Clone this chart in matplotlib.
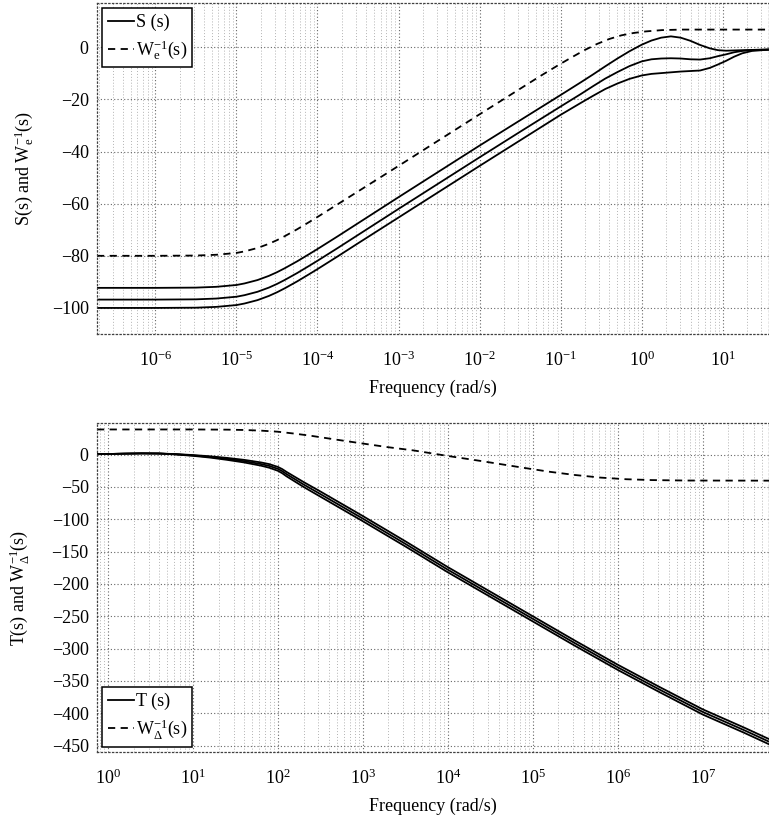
import matplotlib
matplotlib.use("Agg")
import matplotlib.pyplot as plt
from matplotlib.ticker import FixedLocator, LogLocator, LogFormatterSciNotation, NullFormatter
import numpy as np

plt.rcParams['font.family'] = 'serif'
plt.rcParams['font.serif'] = ['Liberation Serif', 'DejaVu Serif']
plt.rcParams['mathtext.fontset'] = 'custom'
plt.rcParams['mathtext.rm'] = 'Liberation Serif'
plt.rcParams['mathtext.it'] = 'Liberation Serif:italic'
plt.rcParams['font.size'] = 13

# --- top panel: S(s) (three cases) and W_e^-1(s); x = log10(rad/s), y = dB ---
logw_s = [-6.72, -6, -5.5, -5.25, -5, -4.9, -4.74, -4.6, -4.5, -4.4, -4.25, -4.1, -4, -3.75,
          -3.5, -3, -2, -1.5, -1, -0.75, -0.6, -0.45, -0.3, -0.15, 0, 0.12, 0.24, 0.36,
          0.48, 0.6, 0.72, 0.84, 0.94, 1.04, 1.14, 1.24, 1.36, 1.57]
S_hi = [-92.3, -92.3, -92.2, -91.9, -91.2, -90.6, -89.3, -87.7, -86.3, -84.7, -82.1, -79.3, -77.4, -72.5,
        -67.5, -57.5, -37.7, -28.0, -18.3, -13.4, -10.4, -7.3, -4.3, -1.5, 1.0, 2.6, 3.7, 4.2,
        3.7, 2.5, 0.9, -0.4, -1.1, -1.3, -1.2, -1.1, -1.0, -0.8]
S_mid = [-96.8, -96.8, -96.7, -96.4, -95.7, -95.1, -93.8, -92.2, -90.8, -89.2, -86.6, -83.8, -81.9, -77.0,
         -72.0, -62.0, -42.2, -32.4, -22.7, -17.9, -14.9, -12.0, -9.5, -7.2, -5.4, -4.6, -4.3, -4.2,
         -4.3, -4.6, -4.7, -4.2, -3.4, -2.7, -1.9, -1.4, -1.1, -0.9]
S_lo = [-100.0, -100.0, -99.9, -99.6, -98.9, -98.3, -97.0, -95.4, -94.0, -92.4, -89.8, -87.0, -85.1, -80.2,
        -75.2, -65.3, -45.5, -35.7, -25.9, -21.3, -18.6, -16.0, -13.9, -12.1, -10.8, -10.2, -9.9, -9.6,
        -9.3, -9.1, -8.9, -7.9, -6.6, -5.2, -3.6, -2.3, -1.4, -0.9]

logw_we = [-6.72, -6, -5.5, -5.25, -5, -4.9, -4.74, -4.6, -4.5, -4.4, -4.25, -4.1, -4, -3.75,
           -3.5, -3, -2, -1.5, -1.25, -1, -0.85, -0.7, -0.55, -0.4, -0.25, -0.1, 0.05, 0.25,
           0.5, 1.0, 1.57]
We_inv = [-80.0, -80.0, -79.9, -79.6, -78.9, -78.3, -77.0, -75.4, -74.0, -72.4, -69.8, -67.0, -65.1, -60.2,
          -55.3, -45.5, -25.7, -15.9, -11.0, -6.3, -3.6, -1.0, 1.3, 3.2, 4.6, 5.5, 6.1, 6.6,
          6.8, 6.8, 6.8]

# --- bottom panel: T(s) (three cases) and W_delta^-1(s) ---
logw_t = [-0.13, 0, 0.2, 0.4, 0.6, 0.8, 1.0, 1.2, 1.4, 1.6, 1.8, 1.9, 2.0, 2.05, 2.1,
          2.2, 2.3, 2.5, 2.75, 3.0, 3.5, 4.0, 4.5, 5.0, 5.5, 6.0, 6.5, 7.0, 7.5, 7.78]
T_hi = [0.8, 1.0, 1.6, 2.0, 1.8, 0.9, -0.6, -2.5, -5.0, -8.0, -12.0, -14.7, -19.0, -22.3, -26.6,
        -34.4, -42.2, -57, -76, -95, -134, -174, -212, -250, -288, -325, -360, -394, -423, -440]
T_mid = [0.8, 1.0, 1.6, 2.0, 1.8, 0.6, -1.2, -3.5, -6.5, -10.0, -14.5, -17.5, -22.0, -25.5, -30,
         -38, -46, -61, -80, -99, -138, -178, -216, -254, -292, -329, -364, -398, -427, -444]
T_lo = [0.8, 1.0, 1.6, 2.0, 1.8, 0.3, -1.8, -4.5, -8.0, -12.0, -17.0, -20.3, -25.0, -28.7, -33.4,
        -41.6, -49.8, -65, -84, -103, -142, -182, -220, -258, -296, -333, -368, -402, -431, -448]

logw_wd = [-0.13, 0, 1.0, 1.4, 1.6, 1.8, 2.0, 2.2, 2.4, 2.7, 3.0, 3.3, 3.6, 4.0, 4.4,
           4.9, 5.2, 5.5, 5.8, 6.1, 6.4, 6.8, 7.78]
Wd_inv = [39.0, 39.0, 39.0, 38.7, 38.2, 37.2, 35.5, 32.5, 29.0, 23.0, 17.2, 11.5, 6.5, -2.0, -10.0,
          -20.5, -26.5, -31.5, -35.5, -38.0, -39.3, -40.0, -40.2]

fig = plt.figure(figsize=(7.69, 8.22), dpi=100)
ax1 = fig.add_axes([97/769, 1 - 334/822, 672/769, 331/822])
ax2 = fig.add_axes([97/769, 1 - 752/822, 672/769, 329/822])

w = lambda lw: 10.0 ** np.array(lw)
dash = (0, (4, 3))

ax1.semilogx(w(logw_s), S_hi, color='black', lw=1.3, label='S (s)')
ax1.semilogx(w(logw_s), S_mid, color='black', lw=1.3)
ax1.semilogx(w(logw_s), S_lo, color='black', lw=1.3)
ax1.semilogx(w(logw_we), We_inv, color='black', lw=1.3, ls=dash,
             label=r'W$_\mathrm{e}^{-1}$(s)')

ax2.semilogx(w(logw_t), T_hi, color='black', lw=1.3, label='T (s)')
ax2.semilogx(w(logw_t), T_mid, color='black', lw=1.3)
ax2.semilogx(w(logw_t), T_lo, color='black', lw=1.3)
ax2.semilogx(w(logw_wd), Wd_inv, color='black', lw=1.3, ls=dash,
             label=r'W$_\Delta^{-1}$(s)')

ax1.set_xlim(10 ** -6.72, 10 ** 1.57)
ax1.set_ylim(-110, 17)
ax1.set_yticks(np.arange(-100, 1, 20))
ax1.xaxis.set_major_locator(FixedLocator([10.0 ** k for k in range(-6, 2)]))
ax1.set_ylabel(r'S(s) and W$_\mathrm{e}^{-1}$(s)', labelpad=11)

ax2.set_xlim(10 ** -0.13, 10 ** 7.78)
ax2.set_ylim(-460, 49)
ax2.set_yticks(np.arange(-450, 1, 50))
ax2.xaxis.set_major_locator(FixedLocator([10.0 ** k for k in range(0, 8)]))
ax2.set_ylabel(r'T(s) and W$_\Delta^{-1}$(s)', labelpad=15)

for ax in (ax1, ax2):
    ax.xaxis.set_major_formatter(LogFormatterSciNotation())
    ax.xaxis.set_minor_locator(LogLocator(base=10, subs=np.arange(2, 10), numticks=200))
    ax.xaxis.set_minor_formatter(NullFormatter())
    ax.set_xlabel('Frequency (rad/s)', labelpad=7)
    ax.tick_params(which='both', length=0)
    ax.tick_params(axis='x', pad=12)
    ax.tick_params(axis='y', pad=6)
    ax.grid(which='major', axis='both', ls=(0, (1, 2)), color='0.4', lw=0.8)
    ax.grid(which='minor', axis='x', ls=(0, (1, 2)), color='0.7', lw=0.7)
    for sp in ax.spines.values():
        sp.set_linestyle((0, (1, 2)))
        sp.set_color('0.25')
        sp.set_linewidth(0.9)

leg_kw = dict(fancybox=False, edgecolor='black', framealpha=1, handlelength=1.45,
              handletextpad=0.1, borderpad=0.3, labelspacing=0.4, borderaxespad=0.3)
l1 = ax1.legend(loc='upper left', **leg_kw)
l2 = ax2.legend(loc='lower left', **leg_kw)
for l in (l1, l2):
    l.get_frame().set_linewidth(1.1)

fig.savefig('out.png', dpi=100)
